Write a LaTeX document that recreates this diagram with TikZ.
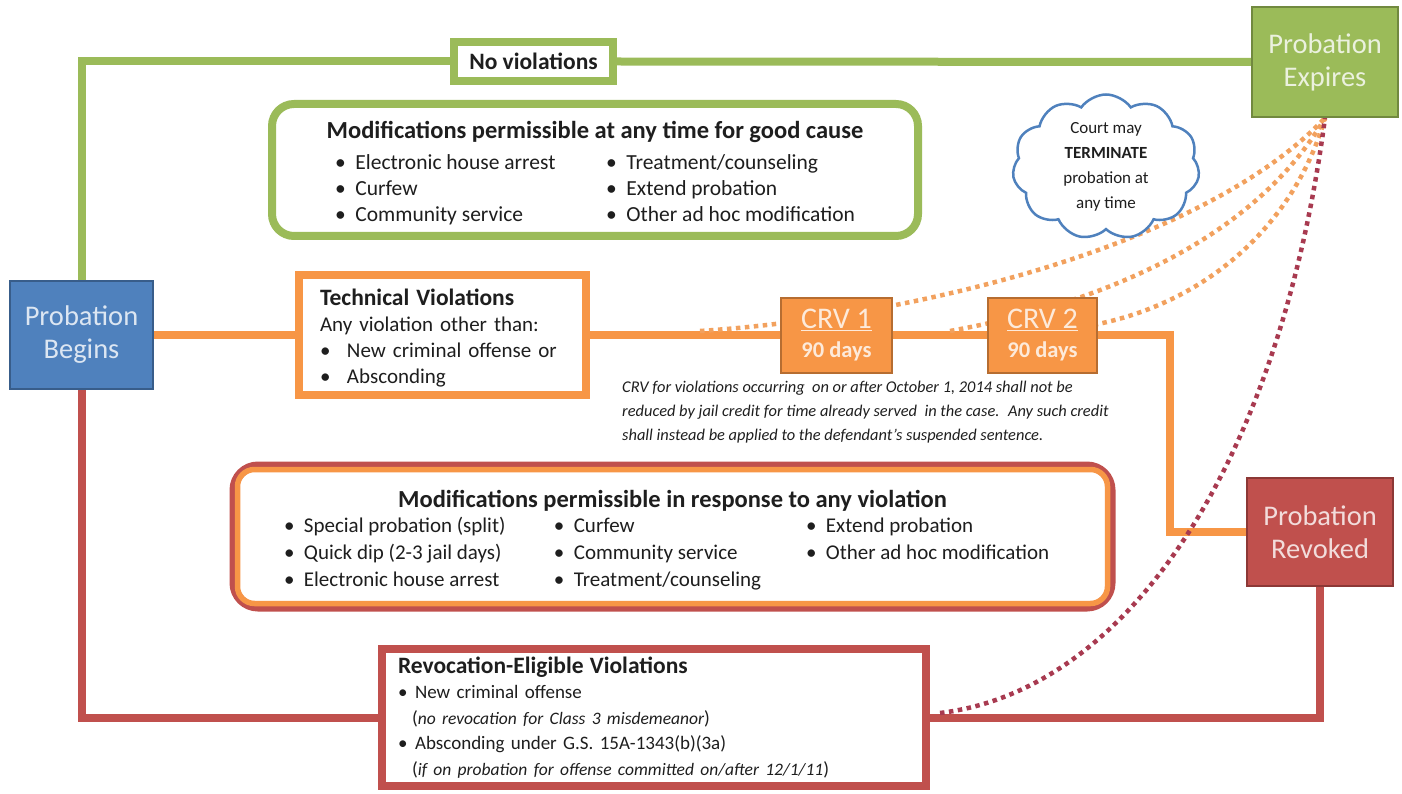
\documentclass[tikz,border=0pt]{standalone}
\usepackage{fontspec}
\setmainfont{Carlito}
\usetikzlibrary{shapes.symbols,calc}
\pgfdeclarelayer{background}
\pgfsetlayers{background,main}
\definecolor{gC}{HTML}{9BBB59}
\definecolor{gD}{HTML}{71893F}
\definecolor{bC}{HTML}{4F81BD}
\definecolor{bD}{HTML}{385D8A}
\definecolor{oC}{HTML}{F79646}
\definecolor{oD}{HTML}{B66D31}
\definecolor{rC}{HTML}{C0504D}
\definecolor{rD}{HTML}{8C3836}
\definecolor{txt}{HTML}{1E1E1E}
\definecolor{oDot}{HTML}{F2A15E}
\definecolor{rDot}{HTML}{A83A50}
\definecolor{bTx}{HTML}{DCE6F2}
\definecolor{gTx}{HTML}{EBF1DE}
\definecolor{rTx}{HTML}{F2DCDB}
\definecolor{oTx}{HTML}{FDEADA}
\newcommand{\bul}{\textbullet\hspace{0.45em}}
\begin{document}
\begin{tikzpicture}[x=1pt,y=-1pt,
  statebox/.style={draw, line width=2pt, inner sep=0pt, align=center,
    font=\fontsize{28.5}{33}\selectfont},
  crvbox/.style={draw=oD, fill=oC, line width=2pt, inner sep=0pt, align=center,
    minimum height=75pt, text=oTx, font=\fontsize{30}{32}\selectfont},
  gline/.style={gC, line width=8pt},
  oline/.style={oC, line width=8pt},
  rline/.style={rC, line width=8pt},
  odots/.style={oDot, line width=4.5pt, dash pattern=on 4.5pt off 4.5pt},
  rdots/.style={rDot, line width=4.5pt, dash pattern=on 4.5pt off 4.5pt},
  txtbox/.style={fill=white, line width=8pt, inner sep=0pt, text=txt},
]
\useasboundingbox (0,0) rectangle (1402,794);

% state boxes
\node[statebox, fill=bC, draw=bD, text=bTx, minimum width=143pt, minimum height=108pt] (begins) at (81.5,335) {Probation\\Begins};
\node[statebox, fill=gC, draw=gD, text=gTx, minimum width=146pt, minimum height=110pt] (expires) at (1325,62) {Probation\\Expires};
\node[statebox, fill=rC, draw=rD, text=rTx, minimum width=146pt, minimum height=108pt] (revoked) at (1320,532) {Probation\\Revoked};

% no violations
\node[txtbox, draw=gC, minimum width=159pt, minimum height=39pt, font=\fontsize{23.5}{26}\selectfont\bfseries] (novi) at (533.5,61.5) {No violations};

% good cause modifications
\node[txtbox, draw=gC, rounded corners=22pt, minimum width=646pt, minimum height=132pt, align=center] (goodcause) at (595,170) {%
{\fontsize{24.5}{28}\selectfont\bfseries\rule{0pt}{28pt}Modifications permissible at any time for good cause}\\[8pt]
\fontsize{21.5}{26}\selectfont
\begin{tabular}{@{}p{271pt}@{}l@{}}
\bul Electronic house arrest & \bul Treatment/counseling\\
\bul Curfew & \bul Extend probation\\
\bul Community service & \bul Other ad hoc modification
\end{tabular}};

% technical violations
\node[txtbox, draw=oC, minimum width=287pt, minimum height=120pt, text width=245pt, align=left, font=\fontsize{21}{26}\selectfont] (tech) at (442.5,335) {%
{\fontsize{23.5}{27}\selectfont\bfseries\rule{0pt}{22pt}Technical Violations}\\
Any violation other than:\\
\makebox[27pt][l]{\textbullet}New criminal offense or\\
\makebox[27pt][l]{\textbullet}Absconding};

% CRV boxes
\node[crvbox, minimum width=111pt] (crv1) at (836.5,335) {\underline{CRV 1}\\[-3pt]{\fontsize{22.5}{24}\selectfont\bfseries 90 days}};
\node[crvbox, minimum width=109pt] (crv2) at (1042.5,335) {\underline{CRV 2}\\[-3pt]{\fontsize{22.5}{24}\selectfont\bfseries 90 days}};

% CRV note
\node[anchor=north west, inner sep=0pt, align=left, text=txt, font=\fontsize{16.4}{24}\selectfont\itshape] (crvnote) at (622,381) {%
CRV for violations occurring \ on or after October 1, 2014 shall not be\\
reduced by jail credit for time already served \ in the case. \ Any such credit\\
shall instead be applied to the defendant’s suspended sentence.};

% cloud
\node[cloud, cloud puffs=11, cloud puff arc=110, draw=bC, line width=2.5pt, fill=white, text=txt, minimum width=187pt, minimum height=145pt, inner sep=0pt, align=center, font=\fontsize{17}{25}\selectfont] (cloudn) at (1106,167) {Court may\\\textbf{TERMINATE}\\probation at\\any time};

% modifications in response to violation
\node[txtbox, draw=rC, line width=9pt, rounded corners=24pt, minimum width=877pt, minimum height=141pt, align=center] (modv) at (672.5,536.5) {%
{\fontsize{24.5}{28}\selectfont\bfseries\rule{0pt}{29pt}Modifications permissible in response to any violation}\\[1pt]
\fontsize{21}{27}\selectfont
\begin{tabular}{@{}p{270pt}@{}p{252pt}@{}p{255pt}@{}}
\bul Special probation (split) & \bul Curfew & \bul Extend probation\\
\bul Quick dip (2-3 jail days) & \bul Community service & \bul Other ad hoc modification\\
\bul Electronic house arrest & \bul Treatment/counseling &
\end{tabular}};
\draw[oC, line width=5.5pt, rounded corners=17pt] ([shift={(8,8)}]modv.north west) rectangle ([shift={(-8,-8)}]modv.south east);

% revocation eligible
\node[txtbox, draw=rC, minimum width=544pt, minimum height=137pt, text width=512pt, align=left, font=\fontsize{19}{25.5}\selectfont] (revoc) at (654,717.5) {%
{\fontsize{23.5}{25}\selectfont\bfseries Revocation-Eligible Violations}\\
\textbullet\hspace{0.4em}New criminal offense\\
\hspace*{14pt}({\fontsize{17.5}{25}\selectfont\itshape no revocation for Class 3 misdemeanor})\\
\textbullet\hspace{0.4em}Absconding under G.S. 15A-1343(b)(3a)\\
\hspace*{14pt}({\fontsize{17.5}{25}\selectfont\itshape if on probation for offense committed on/after 12/1/11})};

% coordinates
\coordinate (oc) at (1170,335);
\coordinate (d1) at (700,331);
\coordinate (d2) at (950,331);
\coordinate (d3) at (1040,331);
\coordinate (d4) at (940,713);

\begin{pgfonlayer}{background}
\draw[gline] (begins.north) |- (novi.west);
\draw[gline] (novi.east) -- (expires.west);
\draw[oline] (begins.east) -- (tech.west);
\draw[oline] (tech.east) -- (crv1.west);
\draw[oline] (crv1.east) -- (crv2.west);
\draw[oline] (crv2.east) -- (oc) |- (revoked.west);
\draw[rline] (begins.south) |- (revoc.west);
\draw[rline] (revoc.east) -| (revoked.south);
\draw[odots] (d1) .. controls (900,318) and (1200,250) .. (expires.south);
\draw[odots] (d2) .. controls (1120,300) and (1260,230) .. (expires.south);
\draw[odots] (d3) .. controls (1180,326) and (1290,240) .. (expires.south);
\draw[rdots] (d4) .. controls (1130,690) and (1280,460) .. (expires.south);
\end{pgfonlayer}
\end{tikzpicture}
\end{document}
